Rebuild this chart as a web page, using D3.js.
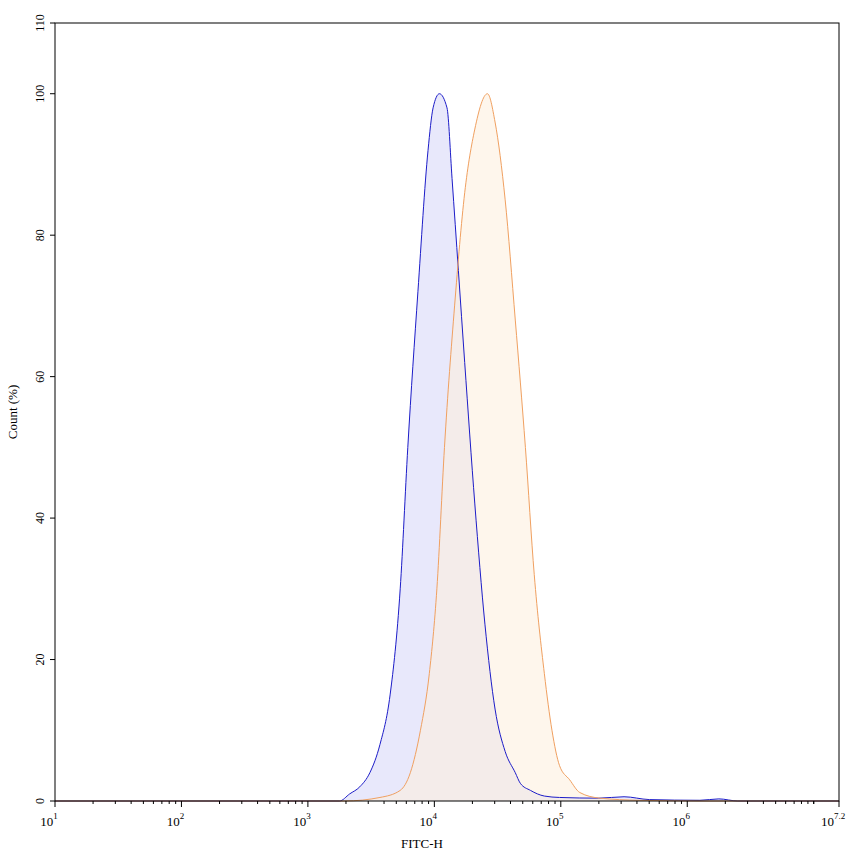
<!DOCTYPE html>
<html><head><meta charset="utf-8">
<script src="https://cdn.jsdelivr.net/npm/d3@7"></script>
<style>body{margin:0;background:#fff}text{font-family:"Liberation Serif","DejaVu Serif",serif;fill:#000}</style>
</head><body><svg id="c" width="853" height="856"></svg>
<script>
// log10(FITC-H), count %
const blueX = [1.0,3.0,3.25,3.33,3.41,3.49,3.57,3.65,3.73,3.79,3.87,3.95,3.99,4.04,4.10,4.14,4.19,4.24,4.32,4.40,4.48,4.56,4.64,4.68,4.76,4.87,4.99,5.3,5.5,5.7,6.1,6.25,6.4,7.2];
const blueY = [0,0,0,1,2,4,8,15,30,50,72,92,98,100,98,88,75,62,42,25,13,7,4,2.5,1.5,0.7,0.5,0.4,0.6,0.2,0.1,0.3,0,0];
const orangeX = [1.0,3.29,3.57,3.73,3.81,3.89,3.96,4.02,4.08,4.16,4.24,4.32,4.42,4.48,4.56,4.64,4.72,4.79,4.87,4.93,4.99,5.07,5.15,5.31,5.62,6.1,7.2];
const orangeY = [0,0,0.5,1.5,4,10,18,30,50,70,86,95,100,96,85,68,50,32,18,10,5,3,1.2,0.4,0.1,0,0];
const yTicks = [0,20,40,60,80,100,110];
const xDecades = [1,2,3,4,5,6];

const svg = d3.select("#c");
const L = 55, R = 839, T = 23, B = 801;
const x = d3.scaleLinear().domain([1, 7.2]).range([L, R]);
const y = d3.scaleLinear().domain([0, 110]).range([B, T]);

const area = d3.area().x(d => x(d[0])).y0(B).y1(d => y(d[1])).curve(d3.curveMonotoneX);
const line = d3.line().x(d => x(d[0])).y(d => y(d[1])).curve(d3.curveMonotoneX);
const blue = blueX.map((v, i) => [v, blueY[i]]);
const orange = orangeX.map((v, i) => [v, orangeY[i]]);

svg.append("path").datum(blue).attr("d", area).attr("fill", "#e6e6fb").attr("fill-opacity", 0.9);
svg.append("path").datum(orange).attr("d", area).attr("fill", "#fdeedd").attr("fill-opacity", 0.55);
svg.append("path").datum(blue).attr("d", line).attr("fill", "none").attr("stroke", "#1c1cc8").attr("stroke-width", 1);
svg.append("path").datum(orange).attr("d", line).attr("fill", "none").attr("stroke", "#f0a060").attr("stroke-width", 1);

// frame
svg.append("rect").attr("x", L).attr("y", T).attr("width", R - L).attr("height", B - T)
  .attr("fill", "none").attr("stroke", "#000").attr("stroke-width", 1);

// x ticks
const minor = [];
xDecades.forEach(d => { for (let k = 2; k <= 9; k++) { const v = d + Math.log10(k); if (v < 7.2) minor.push(v); } });
[7, 8, 9, 10, 12, 14].forEach(k => { const v = 7 + Math.log10(k) - 1 + 1; });
svg.selectAll(".mn").data(minor.concat([7 + Math.log10(1.2) * 0, 7].filter(v => v <= 7.2)))
  .join("line").attr("x1", d => x(d)).attr("x2", d => x(d)).attr("y1", B).attr("y2", B + 3).attr("stroke", "#000");
svg.selectAll(".mj").data(xDecades.concat([7.2]))
  .join("line").attr("x1", d => x(d)).attr("x2", d => x(d)).attr("y1", B).attr("y2", B + 6).attr("stroke", "#000");
const xl = svg.selectAll(".xl").data(xDecades.concat([7.2])).join("text")
  .attr("x", d => x(d) - 6).attr("y", B + 25).attr("text-anchor", "middle").attr("font-size", 13);
xl.append("tspan").text("10");
xl.append("tspan").attr("dy", -7).attr("font-size", 9).text(d => d);

// y ticks
svg.selectAll(".yt").data(yTicks).join("line")
  .attr("x1", L - 5).attr("x2", L).attr("y1", d => y(d)).attr("y2", d => y(d)).attr("stroke", "#000");
svg.selectAll(".yl").data(yTicks).join("text")
  .attr("transform", d => `translate(${L - 11},${y(d)}) rotate(-90)`)
  .attr("text-anchor", "middle").attr("font-size", 12).text(d => d);

svg.append("text").attr("x", (L + R) / 2 - 25).attr("y", 848).attr("text-anchor", "middle").attr("font-size", 13).text("FITC-H");
svg.append("text").attr("transform", `translate(17,${(T + B) / 2 + 0}) rotate(-90)`)
  .attr("text-anchor", "middle").attr("font-size", 13).text("Count  (%)");
</script></body></html>
